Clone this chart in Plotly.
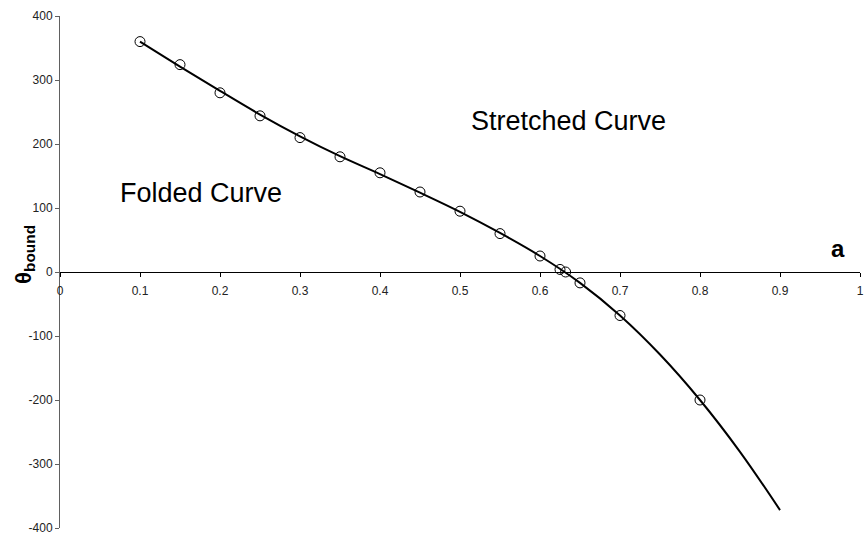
import plotly.graph_objects as go

# Computed boundary points (open circles)
a_points = [0.10, 0.15, 0.20, 0.25, 0.30, 0.35, 0.40, 0.45, 0.50, 0.55, 0.60, 0.625, 0.632, 0.65, 0.70, 0.80]
theta_points = [360, 324, 280, 244, 210, 180, 155, 125, 95, 60, 25, 4, 0, -17, -68, -200]

# Fitted boundary curve
a_curve = [0.10, 0.15, 0.20, 0.25, 0.30, 0.35, 0.40, 0.45, 0.50, 0.55, 0.60, 0.65, 0.70, 0.75, 0.80, 0.85, 0.90]
theta_curve = [360, 321, 283, 246, 212, 181, 153, 124, 94, 61, 25, -17, -68, -129, -200, -281, -372]

x_ticks = [0, 0.1, 0.2, 0.3, 0.4, 0.5, 0.6, 0.7, 0.8, 0.9, 1]
x_labels = ["0", "0.1", "0.2", "0.3", "0.4", "0.5", "0.6", "0.7", "0.8", "0.9", "1"]
y_ticks = [-400, -300, -200, -100, 0, 100, 200, 300, 400]
y_labels = ["-400", "-300", "-200", "-100", "0", "100", "200", "300", "400"]

fig = go.Figure()

fig.add_trace(go.Scatter(
    x=a_curve, y=theta_curve, mode="lines",
    line=dict(color="black", width=2, shape="spline", smoothing=1),
    hoverinfo="skip", showlegend=False,
))
fig.add_trace(go.Scatter(
    x=a_points, y=theta_points, mode="markers",
    marker=dict(symbol="circle-open", size=10, color="black", line=dict(width=1, color="black")),
    showlegend=False,
))

font_family = "Arial, Liberation Sans, sans-serif"
tick_font = dict(family=font_family, size=12, color="#222222")

fig.update_layout(
    width=864, height=537,
    margin=dict(l=60, r=4, t=16, b=9),
    paper_bgcolor="white", plot_bgcolor="white",
    xaxis=dict(
        range=[0, 1], tickvals=x_ticks, ticktext=x_labels,
        showgrid=False, zeroline=False,
        showline=True, linecolor="black", linewidth=1,
        ticks="outside", ticklen=4, tickcolor="black",
        anchor="free", position=0.5, automargin=False,
        ticklabelstandoff=4, tickfont=tick_font,
    ),
    yaxis=dict(
        range=[-400, 400], tickvals=y_ticks, ticktext=y_labels,
        showgrid=False, zeroline=False,
        showline=True, linecolor="#606060", linewidth=1,
        ticks="outside", ticklen=4, tickcolor="#606060",
        automargin=False, tickfont=tick_font,
    ),
    annotations=[
        dict(text="Stretched Curve", x=0.635, y=236, xref="x", yref="y",
             showarrow=False, font=dict(family=font_family, size=27, color="black")),
        dict(text="Folded Curve", x=0.176, y=123, xref="x", yref="y",
             showarrow=False, font=dict(family=font_family, size=27, color="black")),
        dict(text="<b>a</b>", x=0.972, y=36, xref="x", yref="y",
             showarrow=False, font=dict(family=font_family, size=24, color="black")),
        dict(text="<b>θ<sub>bound</sub></b>", x=-0.064, y=28, xref="paper", yref="y",
             textangle=-90, showarrow=False,
             font=dict(family=font_family, size=22, color="black")),
    ],
)

fig.write_html("out.html")
